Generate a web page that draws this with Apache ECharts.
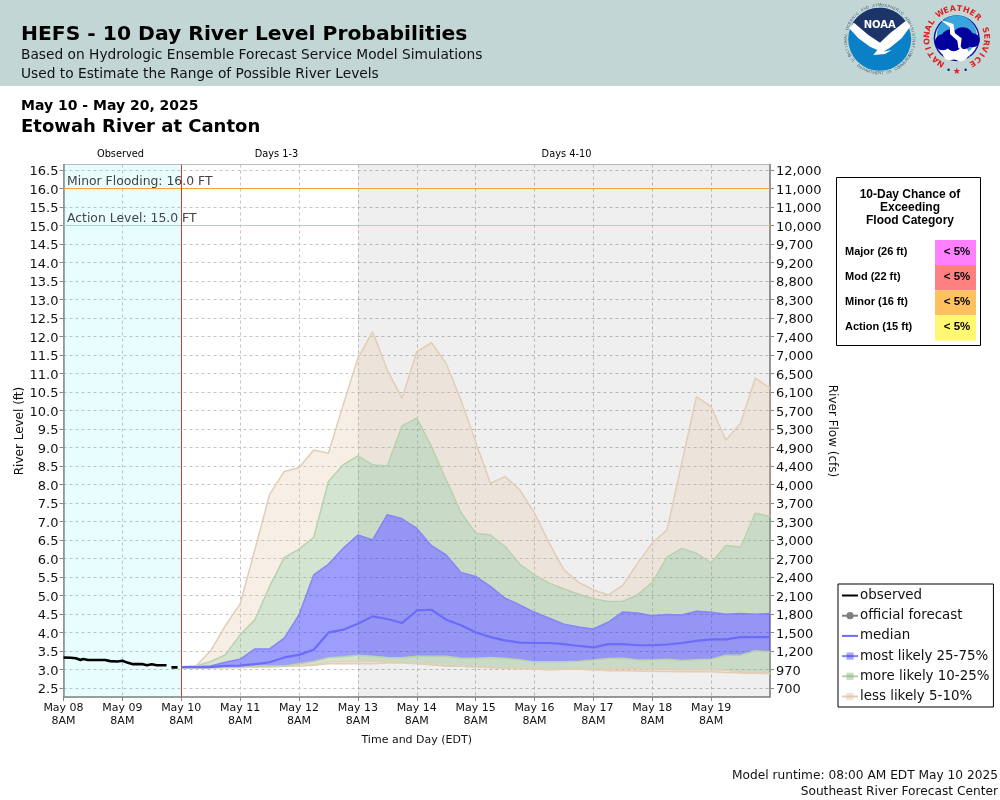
<!DOCTYPE html>
<html>
<head>
<meta charset="utf-8">
<title>HEFS - 10 Day River Level Probabilities</title>
<script src="https://cdn.jsdelivr.net/npm/echarts@6/dist/echarts.min.js"></script>
<style>
  html, body { margin: 0; padding: 0; background: #fff; }
  #chart { width: 1000px; height: 800px; }
</style>
</head>
<body>
<div id="chart"></div>
<script>
  // hours since May 08 8AM
  const forecastHours = [48, 54, 60, 66, 72, 78, 84, 90, 96, 102, 108, 114, 120, 126, 132, 138, 144, 150, 156, 162, 168, 174, 180, 186, 192, 198, 204, 210, 216, 222, 228, 234, 240, 246, 252, 258, 264, 270, 276, 282, 288]

  const q95 = [3.07, 3.09, 3.50, 4.18, 4.77, 6.23, 7.72, 8.35, 8.45, 8.93, 8.84, 10.15, 11.41, 12.13, 11.09, 10.33, 11.59, 11.83, 11.27, 10.28, 9.15, 8.03, 8.21, 7.85, 7.22, 6.41, 5.69, 5.35, 5.15, 5.01, 5.27, 5.87, 6.41, 6.77, 8.57, 10.37, 10.10, 9.20, 9.65, 10.87, 10.60]
  const q90 = [3.07, 3.09, 3.21, 3.39, 3.93, 4.34, 5.24, 6.02, 6.25, 6.57, 8.08, 8.53, 8.77, 8.53, 8.50, 9.58, 9.79, 9.02, 8.12, 7.24, 6.68, 6.63, 6.32, 5.84, 5.55, 5.33, 5.17, 5.03, 4.91, 4.83, 4.84, 5.01, 5.35, 6.03, 6.27, 6.14, 5.87, 6.35, 6.30, 7.22, 7.13]
  const q75 = [3.07, 3.07, 3.09, 3.19, 3.27, 3.55, 3.55, 3.84, 4.47, 5.55, 5.84, 6.27, 6.63, 6.50, 7.18, 7.07, 6.81, 6.34, 6.09, 5.62, 5.51, 5.24, 4.92, 4.74, 4.54, 4.38, 4.22, 4.14, 4.09, 4.27, 4.55, 4.52, 4.45, 4.48, 4.47, 4.57, 4.54, 4.49, 4.51, 4.49, 4.51]
  const median = [3.06, 3.06, 3.06, 3.09, 3.10, 3.14, 3.19, 3.32, 3.39, 3.53, 3.99, 4.07, 4.23, 4.43, 4.36, 4.25, 4.59, 4.61, 4.34, 4.19, 4.00, 3.87, 3.78, 3.72, 3.71, 3.71, 3.68, 3.63, 3.59, 3.68, 3.68, 3.65, 3.65, 3.67, 3.71, 3.77, 3.81, 3.81, 3.87, 3.87, 3.87]
  const q25 = [3.04, 3.04, 3.05, 3.06, 3.07, 3.09, 3.09, 3.09, 3.15, 3.21, 3.31, 3.34, 3.38, 3.35, 3.32, 3.31, 3.35, 3.35, 3.35, 3.30, 3.30, 3.32, 3.30, 3.26, 3.20, 3.20, 3.20, 3.22, 3.25, 3.29, 3.30, 3.25, 3.25, 3.27, 3.24, 3.26, 3.27, 3.38, 3.38, 3.50, 3.47]
  const q10 = [3.04, 3.04, 3.04, 3.05, 3.05, 3.06, 3.07, 3.08, 3.09, 3.12, 3.20, 3.20, 3.21, 3.21, 3.20, 3.19, 3.16, 3.12, 3.09, 3.08, 3.06, 3.05, 3.03, 3.02, 3.01, 2.99, 3.00, 3.00, 2.99, 3.01, 3.03, 3.02, 3.01, 3.00, 2.99, 2.99, 2.99, 2.98, 2.91, 2.90, 2.89]
  const q05 = [3.04, 3.04, 3.04, 3.04, 3.05, 3.06, 3.07, 3.08, 3.09, 3.11, 3.15, 3.15, 3.15, 3.15, 3.17, 3.17, 3.15, 3.12, 3.09, 3.08, 3.06, 3.05, 3.03, 3.02, 3.01, 2.99, 3.00, 3.00, 2.99, 2.96, 2.96, 2.95, 2.94, 2.94, 2.93, 2.93, 2.93, 2.91, 2.90, 2.89, 2.88]

  const observedHours = [0, 3, 5, 7, 8, 10, 12, 14, 17, 19, 22, 24, 26, 28, 32, 34, 36, 38, 42, 43, 44, 46.5]
  const observedLevels = [3.32, 3.31, 3.30, 3.25, 3.28, 3.25, 3.25, 3.25, 3.25, 3.22, 3.21, 3.23, 3.18, 3.14, 3.14, 3.11, 3.135, 3.11, 3.11, null, 3.05, 3.05]

  const levelTicks = [2.5, 3, 3.5, 4, 4.5, 5, 5.5, 6, 6.5, 7, 7.5, 8, 8.5, 9, 9.5, 10, 10.5, 11, 11.5, 12, 12.5, 13, 13.5, 14, 14.5, 15, 15.5, 16, 16.5]
  const flowTicks = ['700', '970', '1,200', '1,500', '1,800', '2,100', '2,400', '2,700', '3,000', '3,300', '3,700', '4,000', '4,400', '4,900', '5,300', '5,700', '6,100', '6,500', '7,000', '7,400', '7,800', '8,300', '8,800', '9,200', '9,700', '10,000', '11,000', '11,000', '12,000']
  const dayLabels = ['May 08', 'May 09', 'May 10', 'May 11', 'May 12', 'May 13', 'May 14', 'May 15', 'May 16', 'May 17', 'May 18', 'May 19']

  const categoryNames = ['Major (26 ft)', 'Mod (22 ft)', 'Minor (16 ft)', 'Action (15 ft)']
  const categoryChances = ['< 5%', '< 5%', '< 5%', '< 5%']
  const categoryColors = ['#ff80ff', '#ff8080', '#ffc060', '#fff870']

  const FONT = '"DejaVu Sans"'
  const ARIAL = '"Liberation Sans"'
  // the axis runs on UTC midnights so its daily ticks land on each 8AM
  const START = Date.UTC(2025, 4, 8)
  const DAY = 86400000
  const LINE_ONLY = { color: 'transparent', borderWidth: 0 }
  const TICK_TEXT = { t: { fontSize: 13, color: '#111', padding: [4, 0, 0, 0] } }

  function toTime (hour) {
    return START + hour * 3600000
  }

  function pairs (xs, ys) {
    return xs.map((x, i) => [toTime(x), ys[i]])
  }

  function diff (upper, lower) {
    return forecastHours.map((x, i) => [toTime(x), upper[i] - lower[i]])
  }

  function bandSeries (name, upper, lower, fill, edge, swatch) {
    return {
      name,
      type: 'line',
      stack: 'hefs',
      data: diff(upper, lower),
      symbol: 'rect',
      showSymbol: false,
      z: 3,
      itemStyle: { color: swatch },
      lineStyle: { color: edge, width: 1.5 },
      areaStyle: { color: fill, opacity: 1 }
    }
  }

  function text (str, x, y, font, fill, align, rotation) {
    return {
      type: 'text',
      x,
      y,
      rotation: rotation || 0,
      silent: true,
      z: 20,
      style: { text: str, font, fill: fill || '#000', textAlign: align || 'left', textVerticalAlign: 'middle' }
    }
  }

  function rect (x, y, width, height, fill, stroke) {
    return {
      type: 'rect',
      silent: true,
      z: 10,
      shape: { x, y, width, height },
      style: { fill, stroke: stroke || null, lineWidth: stroke ? 1 : 0 }
    }
  }

  function circle (cx, cy, r, fill) {
    return { type: 'circle', silent: true, z: 11, shape: { cx, cy, r }, style: { fill } }
  }

  function poly (points, fill, z) {
    return { type: 'polygon', silent: true, z: z || 12, shape: { points }, style: { fill } }
  }

  // letters spaced along a circle, degrees clockwise from the top
  function arcText (str, cx, cy, r, from, to, font, fill, flip) {
    const step = (to - from) / Math.max(str.length - 1, 1)
    return str.split('').map((ch, i) => {
      const deg = from + step * i
      const rad = deg * Math.PI / 180
      return {
        type: 'text',
        silent: true,
        z: 13,
        x: cx + r * Math.sin(rad),
        y: cy - r * Math.cos(rad),
        rotation: -(flip ? rad - Math.PI : rad),
        style: { text: ch, font, fill, textAlign: 'center', textVerticalAlign: 'middle' }
      }
    })
  }

  // logo sketches are laid out in 3x crop pixels of the header corner
  function z3 (pts) {
    return pts.map(p => [840 + p[0] / 3, p[1] / 3])
  }

  function noaaLogo () {
    const cx = 879.7
    const cy = 39.3
    const top = []
    for (let a = -58; a <= 58; a += 6) {
      const rad = a * Math.PI / 180
      top.push([cx + 31.5 * Math.sin(rad), cy - 31.5 * Math.cos(rad)])
    }
    const navy = top.concat(z3([[150, 100], [120, 128], [85, 105]]))
    const gull = z3([[28, 85], [42, 68], [85, 105], [120, 128], [150, 100], [198, 62], [212, 78], [185, 115], [150, 143], [130, 155], [155, 150], [135, 162], [100, 165], [112, 150], [90, 140], [55, 115]])
    return [
      circle(cx, cy, 31.5, '#0a80c6'),
      poly(navy, '#1d3469'),
      poly(gull, '#ffffff', 13),
      text('NOAA', cx, 25, 'bold 10px ' + FONT, '#fff', 'center')
    ].concat(
      arcText('NATIONAL OCEANIC AND ATMOSPHERIC ADMINISTRATION', cx, cy, 34, -118, 118, '4px ' + ARIAL, '#4a5a70'),
      arcText('U.S. DEPARTMENT OF COMMERCE', cx, cy, 34, 242, 118, '4px ' + ARIAL, '#4a5a70', true)
    )
  }

  function nwsLogo () {
    const cx = 956.7
    const cy = 38.3
    const bolt = z3([[302, 60], [340, 72], [345, 100], [365, 115], [362, 140], [395, 175], [355, 143], [352, 122], [330, 102], [330, 82]])
    return [
      circle(cx, cy, 23, '#0a1aa0'),
      circle(cx, cy, 21.5, '#ffffff'),
      circle(cx, cy - 3, 20, '#3aa5dc'),
      circle(cx - 7, cy + 15, 7, '#ffffff'),
      circle(cx + 4, cy + 15, 8, '#ffffff'),
      circle(cx - 14, cy + 4, 8, '#00009c'),
      circle(cx - 6, cy + 1, 10, '#00009c'),
      circle(cx + 6, cy, 11, '#00009c'),
      circle(cx + 16, cy + 2, 7, '#00009c'),
      circle(cx - 3, cy + 6, 7, '#00009c'),
      poly(bolt, '#ffffff', 13),
      text('★', cx, 72, '9px ' + FONT, '#e02020', 'center'),
      text('•', cx - 8, 71, '8px ' + FONT, '#0a1aa0', 'center'),
      text('•', cx + 9, 71, '8px ' + FONT, '#0a1aa0', 'center')
    ].concat(
      arcText('NATIONAL', cx, cy, 29.5, -148, -57, 'bold 8px ' + FONT, '#e02020'),
      arcText('WEATHER', cx, cy, 29.5, -34, 45, 'bold 8px ' + FONT, '#e02020'),
      arcText('SERVICE', cx, cy, 29.5, 74, 148, 'bold 8px ' + FONT, '#e02020')
    )
  }

  function floodTable () {
    const els = [
      rect(836.5, 177.5, 144, 168, '#fff', '#000'),
      text('10-Day Chance of', 910, 195, 'bold 12px ' + ARIAL, '#000', 'center'),
      text('Exceeding', 910, 208, 'bold 12px ' + ARIAL, '#000', 'center'),
      text('Flood Category', 910, 221, 'bold 12px ' + ARIAL, '#000', 'center')
    ]
    categoryNames.forEach((name, i) => {
      const y = 240 + i * 25.1
      els.push(rect(935, y, 41, 25.1, categoryColors[i]))
      els.push(text(name, 845, y + 11.5, 'bold 11px ' + ARIAL))
      els.push(text(categoryChances[i], 957, y + 11.5, 'bold 11.5px ' + ARIAL, '#000', 'center'))
    })
    return els
  }

  const headerElements = [
    rect(0, 0, 1000, 86, '#c2d7d5'),
    text('HEFS - 10 Day River Level Probabilities', 21, 34.5, 'bold 20.3px ' + FONT),
    text('Based on Hydrologic Ensemble Forecast Service Model Simulations', 21, 55.5, '13.75px ' + FONT, '#111'),
    text('Used to Estimate the Range of Possible River Levels', 21, 74.5, '13.75px ' + FONT, '#111'),
    text('May 10 - May 20, 2025', 21, 106, 'bold 14px ' + FONT),
    text('Etowah River at Canton', 21, 127.5, 'bold 18px ' + FONT),
    text('Observed', 120.5, 154, '9.8px ' + FONT, '#000', 'center'),
    text('Days 1-3', 276.5, 154, '9.8px ' + FONT, '#000', 'center'),
    text('Days 4-10', 566.5, 154, '9.8px ' + FONT, '#000', 'center'),
    text('Minor Flooding: 16.0 FT', 67, 182, '12.4px ' + FONT, '#444'),
    text('Action Level: 15.0 FT', 67, 219, '12.4px ' + FONT, '#444'),
    text('River Level (ft)', 19.5, 431, '12px ' + FONT, '#111', 'center', Math.PI / 2),
    text('River Flow (cfs)', 832, 431, '12px ' + FONT, '#111', 'center', -Math.PI / 2),
    text('Model runtime: 08:00 AM EDT May 10 2025', 998, 776, '12.2px ' + FONT, '#111', 'right'),
    text('Southeast River Forecast Center', 998, 792, '12.2px ' + FONT, '#111', 'right')
  ]

  const axisLine = { lineStyle: { color: '#888', width: 1.5 } }
  const gridLine = { show: true, lineStyle: { color: '#c4c4c4', width: 1, type: [3, 3] } }

  const chart = echarts.init(document.getElementById('chart'), null, { renderer: 'canvas' })

  chart.setOption({
    animation: false,
    useUTC: true,
    textStyle: { fontFamily: FONT },
    grid: { left: 63.5, right: 230, top: 164.5, bottom: 103, outerBoundsMode: 'none', show: true, borderColor: '#bbb', borderWidth: 1, backgroundColor: 'transparent' },
    legend: {
      orient: 'vertical',
      left: 838,
      top: 584,
      padding: [5, 4, 4, 3],
      backgroundColor: '#fff',
      borderColor: '#000',
      borderWidth: 1,
      itemGap: 7.2,
      itemWidth: 16,
      itemHeight: 9,
      textStyle: { fontFamily: FONT, fontSize: 13.4, color: '#111', padding: [0, 0, 0, -3] },
      data: [
        { name: 'observed', itemStyle: LINE_ONLY },
        'official forecast',
        { name: 'median', itemStyle: LINE_ONLY },
        'most likely 25-75%',
        'more likely 10-25%',
        'less likely 5-10%'
      ],
      selectedMode: false
    },
    xAxis: {
      type: 'time',
      min: toTime(0),
      max: toTime(288),
      minInterval: DAY,
      maxInterval: DAY,
      splitNumber: 12,
      name: 'Time and Day (EDT)',
      nameLocation: 'middle',
      nameGap: 38,
      nameTextStyle: { fontSize: 11, color: '#111' },
      axisLine: { show: true, onZero: false, lineStyle: axisLine.lineStyle },
      axisTick: { show: true, length: 4, lineStyle: { color: '#888' } },
      axisLabel: {
        fontSize: 11,
        color: '#111',
        lineHeight: 13,
        margin: 5,
        hideOverlap: false,
        formatter: v => {
          const label = dayLabels[Math.round((v - START) / DAY)]
          return label ? `${label}\n8AM` : ''
        }
      },
      splitLine: gridLine
    },
    yAxis: [{
      type: 'value',
      min: 2.25,
      max: 16.65,
      axisLine: { show: true, lineStyle: axisLine.lineStyle },
      axisTick: { show: true, length: 4, customValues: levelTicks, lineStyle: { color: '#888' } },
      axisLabel: { margin: 5, customValues: levelTicks, rich: TICK_TEXT, formatter: v => `{t|${v.toFixed(1)}}` },
      splitLine: gridLine
    }, {
      type: 'value',
      position: 'right',
      min: 2.25,
      max: 16.65,
      axisLine: { show: true, lineStyle: axisLine.lineStyle },
      axisTick: { show: true, length: 4, customValues: levelTicks, lineStyle: { color: '#888' } },
      axisLabel: {
        margin: 6,
        customValues: levelTicks,
        rich: TICK_TEXT,
        formatter: v => `{t|${flowTicks[levelTicks.indexOf(v)]}}`
      },
      splitLine: { show: false }
    }],
    graphic: { elements: headerElements.concat(noaaLogo(), nwsLogo(), floodTable()) },
    series: [
      {
        name: 'background',
        type: 'line',
        data: [],
        markArea: {
          silent: true,
          itemStyle: { opacity: 1 },
          data: [
            [{ xAxis: toTime(0), itemStyle: { color: 'rgba(0, 233, 233, 0.09)' } }, { xAxis: toTime(48) }],
            [{ xAxis: toTime(120), itemStyle: { color: 'rgba(0, 0, 0, 0.063)' } }, { xAxis: toTime(288) }]
          ]
        },
        markLine: {
          silent: true,
          symbol: 'none',
          label: { show: false },
          data: [
            { yAxis: 16, lineStyle: { color: '#f7a040', width: 1, type: 'solid' } },
            { yAxis: 15, lineStyle: { color: '#f4c840', width: 1, type: 'solid' } },
            { xAxis: toTime(48), lineStyle: { color: '#d03a30', width: 1, type: 'solid' } }
          ]
        }
      },
      {
        name: 'base',
        type: 'line',
        stack: 'hefs',
        data: pairs(forecastHours, q05),
        showSymbol: false,
        lineStyle: { width: 1.5, color: '#e3cdb5' },
        z: 3
      },
      bandSeries('less likely 5-10%', q10, q05, 'rgba(225, 195, 160, 0.28)', '#e3cdb5', 'rgba(225, 195, 160, 0.45)'),
      bandSeries('more likely 10-25%', q25, q10, 'rgba(130, 180, 120, 0.35)', '#b8d2ad', 'rgba(130, 180, 120, 0.45)'),
      bandSeries('most likely 25-75%', q75, q25, 'rgba(60, 60, 250, 0.5)', '#8486f6', 'rgba(60, 60, 250, 0.45)'),
      bandSeries('more likely 10-25%', q90, q75, 'rgba(130, 180, 120, 0.35)', '#b8d2ad', 'rgba(130, 180, 120, 0.45)'),
      bandSeries('less likely 5-10%', q95, q90, 'rgba(225, 195, 160, 0.28)', '#e3cdb5', 'rgba(225, 195, 160, 0.45)'),
      {
        name: 'median',
        type: 'line',
        data: pairs(forecastHours, median),
        symbol: 'none',
        z: 5,
        itemStyle: { color: '#6c6cfa' },
        lineStyle: { color: '#6c6cfa', width: 2.2 }
      },
      {
        name: 'official forecast',
        type: 'line',
        data: [],
        symbol: 'circle',
        itemStyle: { color: '#808080' },
        lineStyle: { color: '#808080', width: 2 }
      },
      {
        name: 'observed',
        type: 'line',
        data: pairs(observedHours, observedLevels),
        symbol: 'none',
        connectNulls: false,
        z: 6,
        itemStyle: { color: '#000' },
        lineStyle: { color: '#000', width: 2.6 }
      }
    ]
  })
</script>
</body>
</html>
